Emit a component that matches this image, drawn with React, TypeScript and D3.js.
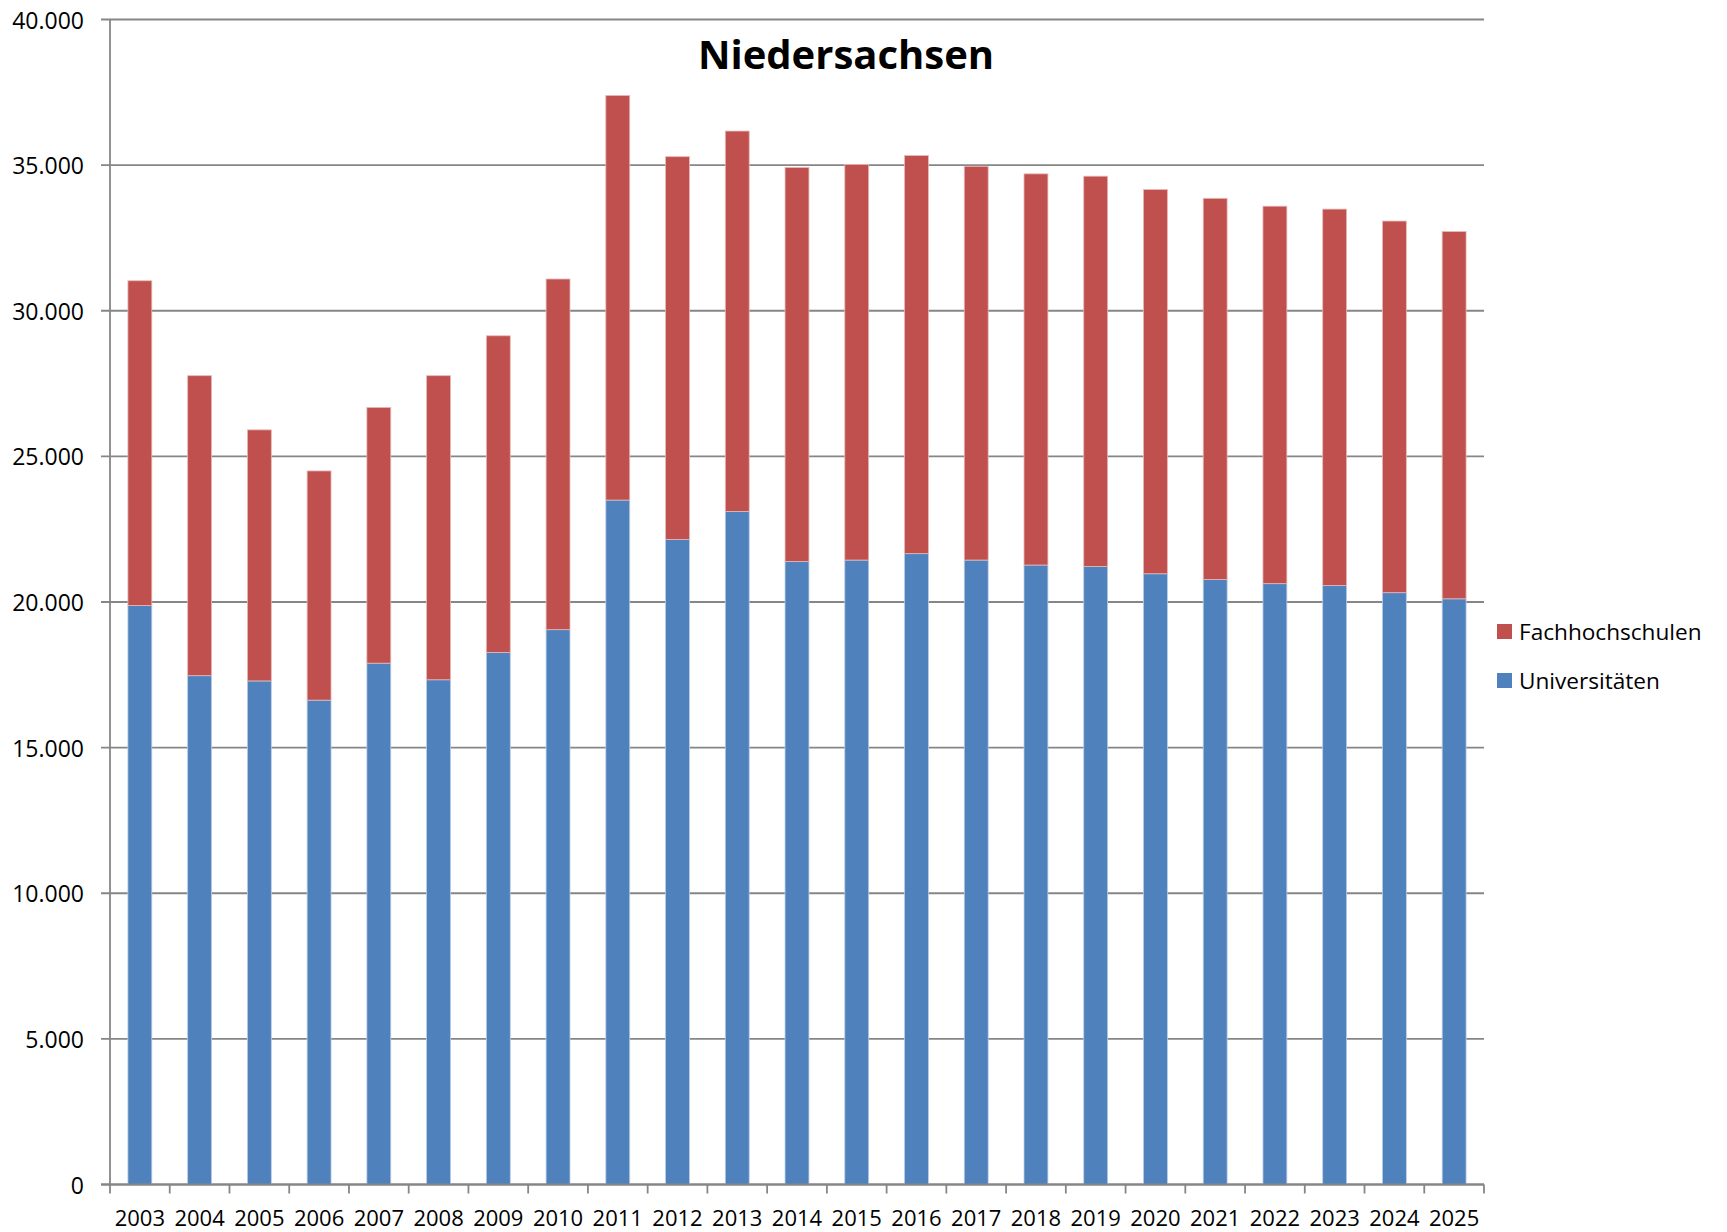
import React from "react";
import * as d3 from "d3";

const years = ["2003","2004","2005","2006","2007","2008","2009","2010","2011","2012","2013","2014","2015","2016","2017","2018","2019","2020","2021","2022","2023","2024","2025"];
const universitaeten = [19880,17470,17290,16630,17900,17330,18270,19050,23500,22150,23110,21390,21440,21660,21440,21270,21220,20970,20770,20630,20570,20320,20110];
const fachhochschulen = [11150,10300,8620,7870,8780,10440,10870,12040,13890,13140,13060,13530,13580,13670,13520,13430,13400,13190,13090,12960,12920,12760,12610];
const yTicks = [0,5000,10000,15000,20000,25000,30000,35000,40000];
const seriesNames = ["Fachhochschulen","Universitäten"];
const title = "Niedersachsen";

const W = 1727, H = 1232;
const left = 110, right = 1484, top = 19.5, bottom = 1184.5;
const FONT = "'Open Sans', 'Noto Sans', sans-serif";
const RED = "#C0504D", BLUE = "#4F81BD", GRID = "#868686";

export default function App() {
  const x = d3.scaleBand<string>().domain(years).range([left, right]).paddingInner(0.6).paddingOuter(0.3);
  const xb = d3.scaleBand<string>().domain(years).range([left, right]);
  const y = d3.scaleLinear().domain([0, 40000]).range([bottom, top]);
  const loc = d3.formatLocale({ decimal: ",", thousands: ".", grouping: [3], currency: ["", "€"] });
  const fmt = loc.format(",");
  const data = years.map((yr, i) => ({ yr, u: universitaeten[i], f: fachhochschulen[i] }));
  const stack = d3.stack<any>().keys(["u", "f"])(data as any);

  return (
    <svg width={W} height={H} style={{ position: "absolute", left: 0, top: 0, background: "#fff" }} fontFamily={FONT}>
      {yTicks.map(t => (
        <g key={t}>
          <line x1={left - 9} x2={right} y1={y(t)} y2={y(t)} stroke={GRID} strokeWidth={1.8} />
          <text x={84} y={y(t)} textAnchor="end" dominantBaseline="central" fontSize={23} fill="#000">{fmt(t)}</text>
        </g>
      ))}
      {stack.map((s, si) => (
        <g key={si}>
          {s.map((d: any, i: number) => (
            <rect key={i} x={x(years[i])} width={x.bandwidth()} y={y(d[1])} height={y(d[0]) - y(d[1])}
              fill={si === 0 ? BLUE : RED} stroke={si === 0 ? "#b9cde5" : "#e6b9b8"} strokeWidth={0.8} />
          ))}
        </g>
      ))}
      <line x1={left} x2={left} y1={top} y2={bottom} stroke={GRID} strokeWidth={1.8} />
      <line x1={left - 9} x2={right} y1={bottom} y2={bottom} stroke={GRID} strokeWidth={1.8} />
      {years.map((yr, i) => (
        <line key={"t" + i} x1={xb(yr)!} x2={xb(yr)!} y1={bottom} y2={bottom + 9} stroke={GRID} strokeWidth={1.8} />
      ))}
      <line x1={right} x2={right} y1={bottom} y2={bottom + 9} stroke={GRID} strokeWidth={1.8} />
      {years.map(yr => (
        <text key={"l" + yr} x={xb(yr)! + xb.bandwidth() / 2} y={1226} textAnchor="middle" fontSize={22} fill="#000">{yr}</text>
      ))}
      <text x={846} y={69} textAnchor="middle" fontSize={40} fontWeight="bold" fill="#000">{title}</text>
      {seriesNames.map((n, i) => (
        <g key={n}>
          <rect x={1497} y={624 + i * 49} width={15} height={15} fill={i === 0 ? RED : BLUE} />
          <text x={1519} y={631.5 + i * 49} dominantBaseline="central" fontSize={22.6} fill="#000">{n}</text>
        </g>
      ))}
    </svg>
  );
}
